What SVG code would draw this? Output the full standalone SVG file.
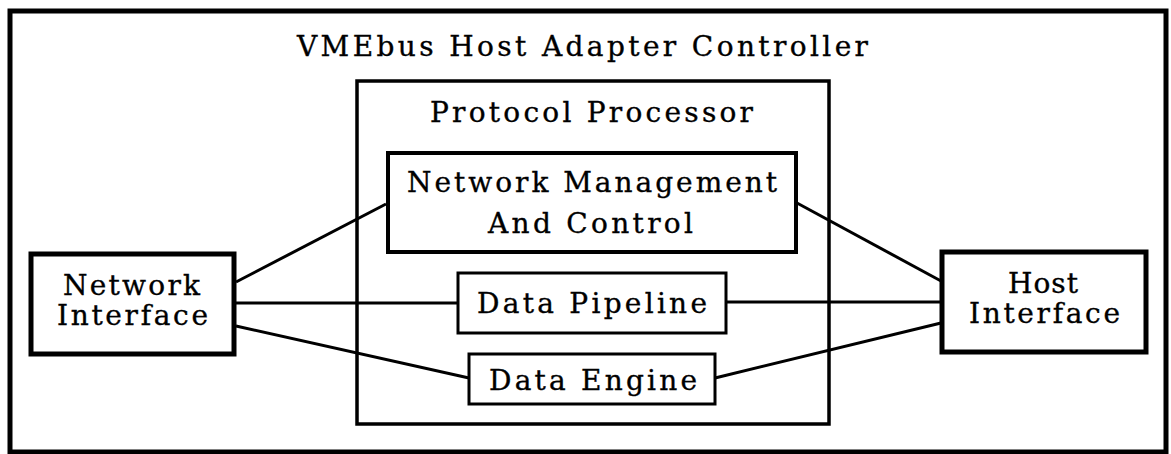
<svg xmlns="http://www.w3.org/2000/svg" width="1171" height="454" viewBox="0 0 1171 454">
  <style>
    .box { fill: #fff; stroke: #000; }
    .lbl { font-family: "DejaVu Serif", "Liberation Serif", serif; font-size: 28px; fill: #000; stroke: #000; stroke-width: 0.35; text-anchor: start; }
    .wire { stroke: #000; stroke-width: 3; fill: none; }
  </style>
  <rect width="1171" height="454" fill="#fff"/>

  <!-- outer controller frame -->
  <g id="controller">
    <rect class="box" x="10" y="11" width="1156" height="441" stroke-width="5"/>
    <text class="lbl" x="297" y="56" textLength="571" lengthAdjust="spacing">VMEbus Host Adapter Controller</text>
  </g>

  <g id="protocol-processor">
    <rect class="box" x="357" y="81" width="472" height="343" stroke-width="3.5"/>
    <text class="lbl" x="430" y="122" textLength="323" lengthAdjust="spacing">Protocol Processor</text>
  </g>

  <!-- connectors -->
  <g id="connectors">
    <line class="wire" x1="236" y1="282" x2="386" y2="204"/>
    <line class="wire" x1="236" y1="303" x2="457" y2="303"/>
    <line class="wire" x1="236" y1="326" x2="469" y2="378" stroke-width="3.5"/>
    <line class="wire" x1="797" y1="203" x2="941" y2="281"/>
    <line class="wire" x1="727" y1="302" x2="941" y2="302"/>
    <line class="wire" x1="715" y1="378" x2="941" y2="323" stroke-width="3.5"/>
  </g>

  <g id="network-management">
    <rect class="box" x="388" y="153" width="408" height="99" stroke-width="4"/>
    <text class="lbl" x="407" y="192" textLength="370" lengthAdjust="spacing">Network Management</text>
    <text class="lbl" x="488" y="233" textLength="205" lengthAdjust="spacing">And Control</text>
  </g>

  <g id="data-pipeline">
    <rect class="box" x="458" y="273" width="268" height="60" stroke-width="3"/>
    <text class="lbl" x="477" y="313" textLength="230" lengthAdjust="spacing">Data Pipeline</text>
  </g>

  <g id="data-engine">
    <rect class="box" x="469" y="354" width="246" height="50" stroke-width="3"/>
    <text class="lbl" x="489" y="390" textLength="208" lengthAdjust="spacing">Data Engine</text>
  </g>

  <g id="network-interface">
    <rect class="box" x="31" y="254" width="203" height="100" stroke-width="5"/>
    <text class="lbl" x="63" y="295" textLength="137" lengthAdjust="spacing">Network</text>
    <text class="lbl" x="57" y="325" textLength="151" lengthAdjust="spacing">Interface</text>
  </g>

  <g id="host-interface">
    <rect class="box" x="942" y="252" width="204" height="100" stroke-width="5"/>
    <text class="lbl" x="1008" y="293" textLength="70" lengthAdjust="spacing">Host</text>
    <text class="lbl" x="969" y="323" textLength="151" lengthAdjust="spacing">Interface</text>
  </g>
</svg>
